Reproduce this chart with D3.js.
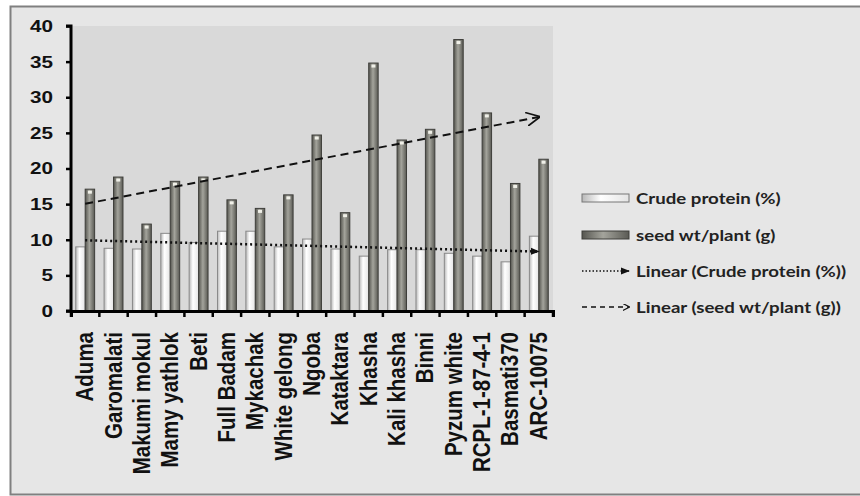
<!DOCTYPE html>
<html>
<head>
<meta charset="utf-8">
<script src="https://cdn.jsdelivr.net/npm/d3@7"></script>
<style>
  body { margin: 0; background: #fff; }
</style>
</head>
<body>
<div id="vis"></div>
<script>
var varieties = ["Aduma", "Garomalati", "Makumi mokul", "Mamy yathlok", "Beti", "Full Badam",
  "Mykachak", "White gelong", "Ngoba", "Kataktara", "Khasha", "Kali khasha", "Binni",
  "Pyzum white", "RCPL-1-87-4-1", "Basmati370", "ARC-10075"];
var crudeProtein = [9.0, 8.8, 8.7, 10.9, 9.6, 11.2, 11.2, 9.0, 10.1, 8.7, 7.7, 8.6, 8.6, 8.1, 7.7, 6.9, 10.5];
var seedWt = [17.1, 18.8, 12.2, 18.2, 18.8, 15.6, 14.4, 16.3, 24.7, 13.8, 34.8, 24.0, 25.5, 38.1, 27.8, 17.9, 21.3];
var yTicks = [0, 5, 10, 15, 20, 25, 30, 35, 40];
var legendLabels = ["Crude protein (%)", "seed wt/plant (g)", "Linear (Crude protein (%))", "Linear (seed wt/plant (g))"];

var W = 860, H = 496;
var m = { left: 71, right: 307, top: 26, bottom: 185 };
// the original picture is stretched sideways a bit
var stretch = 1.23;

var svg = d3.select("#vis").append("svg")
  .attr("width", W).attr("height", H);

var defs = svg.append("defs");
var g1 = defs.append("linearGradient").attr("id", "seedGrad");
g1.append("stop").attr("offset", "0%").attr("stop-color", "#55554f");
g1.append("stop").attr("offset", "45%").attr("stop-color", "#a4a49c");
g1.append("stop").attr("offset", "100%").attr("stop-color", "#5a5a54");
var g2 = defs.append("linearGradient").attr("id", "crudeGrad");
g2.append("stop").attr("offset", "0%").attr("stop-color", "#b8b8b8");
g2.append("stop").attr("offset", "40%").attr("stop-color", "#ffffff");
g2.append("stop").attr("offset", "100%").attr("stop-color", "#e4e4e4");

defs.append("marker").attr("id", "arrowOpen")
  .attr("viewBox", "0 0 10 10").attr("refX", 9).attr("refY", 5)
  .attr("markerWidth", 7).attr("markerHeight", 7)
  .attr("markerUnits", "userSpaceOnUse").attr("orient", "auto")
  .append("path").attr("d", "M0,0 L10,5 L0,10").attr("fill", "none")
  .attr("stroke", "#111").attr("stroke-width", 1.8);
defs.append("marker").attr("id", "arrowBig")
  .attr("viewBox", "0 0 10 10").attr("refX", 9).attr("refY", 5)
  .attr("markerWidth", 14).attr("markerHeight", 14)
  .attr("markerUnits", "userSpaceOnUse").attr("orient", "auto")
  .append("path").attr("d", "M0,0 L10,5 L0,10").attr("fill", "none")
  .attr("stroke", "#111").attr("stroke-width", 1.2);
defs.append("marker").attr("id", "arrowSolid")
  .attr("viewBox", "0 0 10 10").attr("refX", 9).attr("refY", 5)
  .attr("markerWidth", 9).attr("markerHeight", 9)
  .attr("markerUnits", "userSpaceOnUse").attr("orient", "auto")
  .append("path").attr("d", "M0,1 L10,5 L0,9 Z").attr("fill", "#111");

// outer frame
svg.append("rect").attr("x", 10.5).attr("y", 6.5).attr("width", W).attr("height", H - 8)
  .attr("fill", "#e6e6e6").attr("stroke", "#808080").attr("stroke-width", 2);

var x = d3.scaleBand().domain(varieties).range([m.left, W - m.right]);
var y = d3.scaleLinear().domain([0, 40]).range([H - m.bottom, m.top]);
var inner = d3.scaleBand().domain(["crude", "seed"]).range([0, x.bandwidth()]).paddingOuter(0.5);

// plot area
svg.append("rect").attr("x", m.left).attr("y", y(40))
  .attr("width", W - m.right - m.left).attr("height", y(0) - y(40))
  .attr("fill", "#d9d9d9");

var groups = svg.selectAll(".grp").data(varieties).enter().append("g")
  .attr("transform", function(d) { return "translate(" + x(d) + ",0)"; });

groups.append("rect")
  .attr("x", inner("crude"))
  .attr("y", function(d, i) { return y(crudeProtein[i]); })
  .attr("width", inner.bandwidth())
  .attr("height", function(d, i) { return y(0) - y(crudeProtein[i]); })
  .attr("fill", "url(#crudeGrad)")
  .attr("stroke", "#8a8a8a").attr("stroke-width", 1);

groups.append("rect")
  .attr("x", inner("seed"))
  .attr("y", function(d, i) { return y(seedWt[i]); })
  .attr("width", inner.bandwidth())
  .attr("height", function(d, i) { return y(0) - y(seedWt[i]); })
  .attr("fill", "url(#seedGrad)")
  .attr("stroke", "#3e3e3a").attr("stroke-width", 1);

// small highlight caps on top of bars
groups.append("rect")
  .attr("x", inner("seed") + inner.bandwidth() / 2 - 2)
  .attr("y", function(d, i) { return y(seedWt[i]) + 1.5; })
  .attr("width", 4).attr("height", 3)
  .attr("fill", "#f0f0e8");

// linear trendlines (least squares on index)
function fit(vals) {
  var n = vals.length, xs = d3.range(n);
  var mx = d3.mean(xs), my = d3.mean(vals);
  var sxy = d3.sum(xs, function(v, i) { return (v - mx) * (vals[i] - my); });
  var sxx = d3.sum(xs, function(v) { return (v - mx) * (v - mx); });
  var b = sxy / sxx, a = my - b * mx;
  return [a, a + b * (n - 1)];
}
var cx = function(i) { return x(varieties[i]) + x.bandwidth() / 2; };
var last = varieties.length - 1;
var fc = fit(crudeProtein), fs = fit(seedWt);

svg.append("line")
  .attr("x1", cx(0)).attr("y1", y(fc[0])).attr("x2", cx(last)).attr("y2", y(fc[1]))
  .attr("stroke", "#111").attr("stroke-width", 2.5).attr("stroke-dasharray", "2,3")
  .attr("marker-end", "url(#arrowSolid)");
svg.append("line")
  .attr("x1", cx(0)).attr("y1", y(fs[0])).attr("x2", cx(last)).attr("y2", y(fs[1]))
  .attr("stroke", "#111").attr("stroke-width", 2).attr("stroke-dasharray", "8,5")
  .attr("marker-end", "url(#arrowBig)");

// axes
var yAxis = svg.append("g").attr("transform", "translate(" + m.left + ",0)")
  .call(d3.axisLeft(y).tickValues(yTicks).tickSize(5).tickPadding(6));
var xAxis = svg.append("g").attr("transform", "translate(0," + y(0) + ")")
  .call(d3.axisBottom(x).tickSize(6).tickFormat(""));
// ticks at band edges
xAxis.selectAll(".tick").remove();
xAxis.selectAll(".edge").data(varieties.concat(["_end"])).enter().append("line")
  .attr("x1", function(d, i) { return m.left + i * x.step(); })
  .attr("x2", function(d, i) { return m.left + i * x.step(); })
  .attr("y1", 0).attr("y2", 6).attr("stroke", "#000").attr("stroke-width", 2.5);

[yAxis, xAxis].forEach(function(a) {
  a.select(".domain").attr("stroke", "#000").attr("stroke-width", 3);
  a.selectAll(".tick line").attr("stroke", "#000").attr("stroke-width", 2.5);
});
yAxis.select(".domain").attr("d", "M-5," + y(40) + "H0V" + y(0) + "H-5");
yAxis.selectAll(".tick text")
  .attr("x", -18 / stretch)
  .attr("transform", "scale(" + stretch + ",1)")
  .attr("font-family", "Liberation Sans, Arial, sans-serif")
  .attr("font-size", "16.8px").attr("font-weight", "bold").attr("fill", "#111");

svg.append("g").selectAll("text").data(varieties).enter().append("text")
  .attr("transform", function(d) {
    return "translate(" + (x(d) + x.bandwidth() / 2 + 8) + "," + (y(0) + 21) + ") scale(1.15,1) rotate(-90)";
  })
  .attr("text-anchor", "end")
  .attr("font-family", "Liberation Sans, Arial, sans-serif")
  .attr("font-size", "20.5px").attr("font-weight", "bold").attr("fill", "#111")
  .text(function(d) { return d; });

// legend
var lx = 582, ly = [198, 235, 271, 307];
var leg = svg.append("g");
leg.append("rect").attr("x", lx).attr("y", ly[0] - 4).attr("width", 47).attr("height", 8)
  .attr("fill", "url(#crudeGrad)").attr("stroke", "#777");
leg.append("rect").attr("x", lx).attr("y", ly[1] - 4).attr("width", 47).attr("height", 8)
  .attr("fill", "url(#seedGrad)").attr("stroke", "#3e3e3a");
leg.append("line").attr("x1", lx).attr("x2", lx + 47).attr("y1", ly[2]).attr("y2", ly[2])
  .attr("stroke", "#111").attr("stroke-width", 1.5).attr("stroke-dasharray", "1.5,2")
  .attr("marker-end", "url(#arrowSolid)");
leg.append("line").attr("x1", lx).attr("x2", lx + 47).attr("y1", ly[3]).attr("y2", ly[3])
  .attr("stroke", "#111").attr("stroke-width", 1.5).attr("stroke-dasharray", "5,4")
  .attr("marker-end", "url(#arrowOpen)");
leg.selectAll("text").data(legendLabels).enter().append("text")
  .attr("transform", function(d, i) { return "translate(" + (lx + 54) + "," + (ly[i] + 6) + ") scale(1.26,1)"; })
  .attr("font-family", "Lato, Open Sans, sans-serif")
  .attr("font-size", "14.8px").attr("font-weight", "bold").attr("fill", "#222")
  .text(function(d) { return d; });
</script>
</body>
</html>
